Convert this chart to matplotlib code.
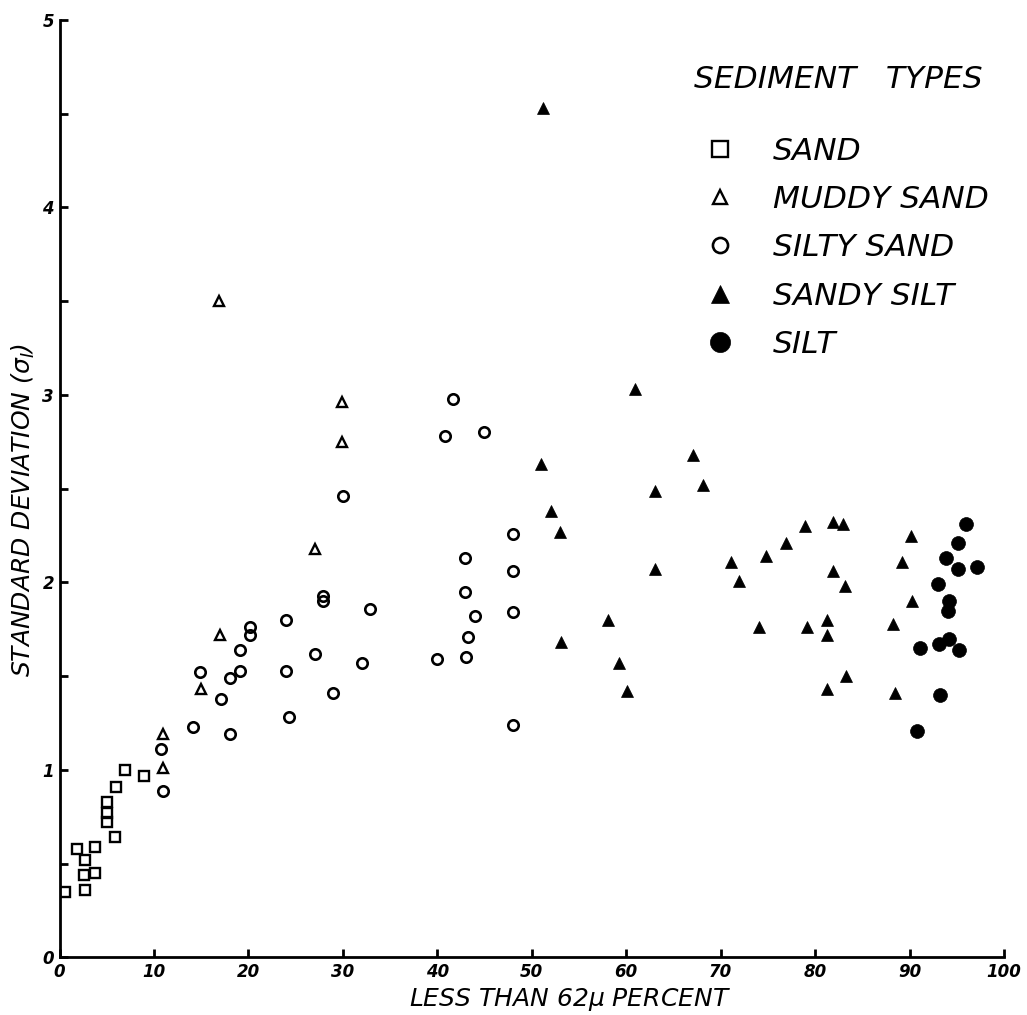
import matplotlib
matplotlib.use("Agg")
import matplotlib.pyplot as plt
from matplotlib.ticker import MultipleLocator

# fine fraction (< 62 micron, %) and sorting (sigma_I) per sample, by sediment type
sand_x = [0.6, 2.7, 2.6, 3.8, 1.8, 2.7, 3.8, 5.9, 5.0, 5.0, 5.0, 6.0, 6.9, 8.9]
sand_y = [0.35, 0.36, 0.44, 0.45, 0.58, 0.52, 0.59, 0.64, 0.83, 0.77, 0.72, 0.91, 1.00, 0.97]

muddy_sand_x = [11.0, 10.9, 15.0, 17.0, 27.0, 29.9, 29.9, 16.9]
muddy_sand_y = [1.19, 1.01, 1.43, 1.72, 2.18, 2.75, 2.96, 3.50]

silty_sand_x = [10.7, 11.0, 14.1, 18.0, 14.9, 17.1, 18.0, 19.1, 19.1, 20.2, 20.2, 24.0,
                24.0, 24.3, 27.0, 27.9, 27.9, 29.0, 30.0, 32.0, 32.9, 40.0, 40.8, 41.7,
                43.0, 43.2, 42.9, 42.9, 44.0, 44.9, 48.0, 48.0, 48.0, 48.0]
silty_sand_y = [1.11, 0.89, 1.23, 1.19, 1.52, 1.38, 1.49, 1.53, 1.64, 1.72, 1.76, 1.80,
                1.53, 1.28, 1.62, 1.90, 1.93, 1.41, 2.46, 1.57, 1.86, 1.59, 2.78, 2.98,
                1.60, 1.71, 1.95, 2.13, 1.82, 2.80, 2.26, 2.06, 1.84, 1.24]

sandy_silt_x = [51.2, 51.0, 52.0, 53.0, 53.1, 58.1, 59.2, 60.1, 60.9, 63.0, 63.0, 67.1,
                68.1, 71.1, 71.9, 74.8, 74.1, 76.9, 78.9, 79.1, 81.9, 82.9, 81.9, 83.2,
                81.2, 81.2, 81.2, 83.3, 88.2, 88.4, 89.2, 90.1, 90.2]
sandy_silt_y = [4.53, 2.63, 2.38, 2.27, 1.68, 1.80, 1.57, 1.42, 3.03, 2.49, 2.07, 2.68,
                2.52, 2.11, 2.01, 2.14, 1.76, 2.21, 2.30, 1.76, 2.32, 2.31, 2.06, 1.98,
                1.80, 1.72, 1.43, 1.50, 1.78, 1.41, 2.11, 2.25, 1.90]

silt_x = [96.0, 95.1, 93.9, 95.1, 97.1, 93.0, 94.2, 94.1, 91.1, 93.1, 94.2, 95.2, 93.2, 90.8]
silt_y = [2.31, 2.21, 2.13, 2.07, 2.08, 1.99, 1.90, 1.85, 1.65, 1.67, 1.70, 1.64, 1.40, 1.21]

x_ticks = [0, 10, 20, 30, 40, 50, 60, 70, 80, 90, 100]
y_ticks = [0, 1, 2, 3, 4, 5]

plt.rcParams["mathtext.default"] = "it"

fig = plt.figure(figsize=(10.27, 10.15), dpi=100)
ax = fig.add_axes([0.058, 0.0567, 0.9197, 0.9236])

ink = "black"
ax.plot(sand_x, sand_y, "s", ms=7.5, mfc="none", mec=ink, mew=1.7, label="SAND")
ax.plot(muddy_sand_x, muddy_sand_y, "^", ms=7, mfc="none", mec=ink, mew=1.7, label="MUDDY SAND")
ax.plot(silty_sand_x, silty_sand_y, "o", ms=7.5, mfc="none", mec=ink, mew=1.9, label="SILTY SAND")
ax.plot(sandy_silt_x, sandy_silt_y, "^", ms=9, mfc=ink, mec=ink, mew=0.5, label="SANDY SILT")
ax.plot(silt_x, silt_y, "o", ms=10, mfc=ink, mec=ink, mew=0.5, label="SILT")

ax.set_xlim(0, 100)
ax.set_ylim(0, 5)
ax.set_xticks(x_ticks)
ax.set_yticks(y_ticks)
ax.yaxis.set_minor_locator(MultipleLocator(0.5))

for side in ("top", "right"):
    ax.spines[side].set_visible(False)
for side in ("left", "bottom"):
    ax.spines[side].set_linewidth(2.0)

ax.tick_params(which="both", direction="in", width=2.0, length=6, pad=4)
for lab in ax.get_xticklabels() + ax.get_yticklabels():
    lab.set_fontstyle("italic")
    lab.set_fontweight("bold")
    lab.set_fontsize(12)

ax.set_xlabel(r"LESS THAN 62$\mu$ PERCENT", fontsize=18, fontstyle="italic")
ax.xaxis.set_label_coords(0.54, -0.03)
ax.set_ylabel(r"STANDARD DEVIATION ($\sigma_I$)", fontsize=18, fontstyle="italic")
ax.yaxis.set_label_coords(-0.024, 0.477)

ax.text(0.825, 0.936, "SEDIMENT   TYPES", transform=ax.transAxes, ha="center",
        va="center", fontsize=22.5, fontstyle="italic")

leg = ax.legend(loc="upper left", bbox_to_anchor=(0.669, 0.889), frameon=False,
                borderaxespad=0, fontsize=22.5, markerscale=1.45, handlelength=1.0,
                handletextpad=1.2, labelspacing=0.62)
for t in leg.get_texts():
    t.set_fontstyle("italic")

fig.savefig("out.png", dpi=100)
